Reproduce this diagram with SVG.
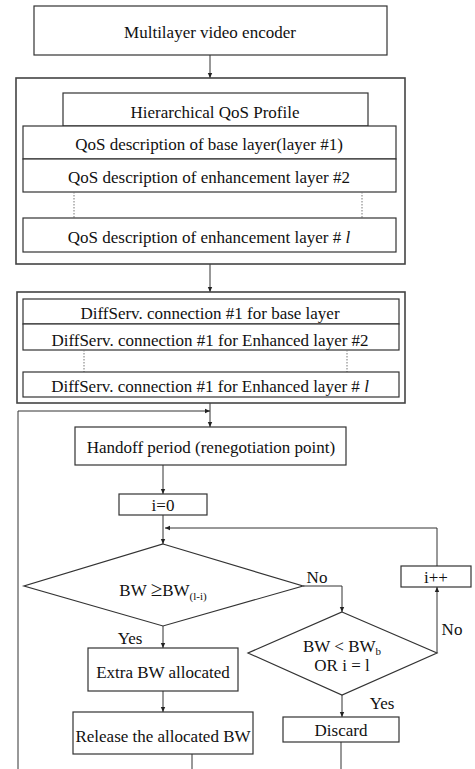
<svg xmlns="http://www.w3.org/2000/svg" width="475" height="769" viewBox="0 0 475 769">
<style>
.b{fill:#fff;stroke:#333;stroke-width:1.2}
.o{fill:none;stroke:#444;stroke-width:1.6}
.l{fill:none;stroke:#333;stroke-width:1}
.d{fill:none;stroke:#777;stroke-width:1;stroke-dasharray:1.5 1.5}
text{font-family:'Liberation Serif','Times New Roman',Tinos,'DejaVu Serif',serif;font-size:17px;fill:#111;text-anchor:middle}
.s{font-size:11px}
</style>
<defs>
<marker id="a" markerWidth="6" markerHeight="6" refX="5" refY="3" orient="auto" markerUnits="userSpaceOnUse">
<path d="M0,0.8 L5,3 L0,5.2 Z" fill="#222"/>
</marker>
</defs>
<rect width="475" height="769" fill="#fff"/>
<g id="connectors">
<line class="l" x1="210" y1="55" x2="210" y2="78" marker-end="url(#a)"/>
<line class="l" x1="210" y1="264" x2="210" y2="292" marker-end="url(#a)"/>
<line class="l" x1="210" y1="403" x2="210" y2="427" marker-end="url(#a)"/>
<polyline class="l" points="18,769 18,411 210,411" marker-end="url(#a)"/>
<line class="l" x1="163" y1="465" x2="163" y2="494" marker-end="url(#a)"/>
<line class="l" x1="163" y1="515" x2="163" y2="544" marker-end="url(#a)"/>
<polyline class="l" points="437,566 437,528 165,528" marker-end="url(#a)"/>
<polyline class="l" points="303,586 342,586 342,612" marker-end="url(#a)"/>
<line class="l" x1="437" y1="653" x2="437" y2="587" marker-end="url(#a)"/>
<line class="l" x1="163" y1="626" x2="163" y2="648" marker-end="url(#a)"/>
<line class="l" x1="163" y1="691" x2="163" y2="712" marker-end="url(#a)"/>
<line class="l" x1="342" y1="695" x2="342" y2="717" marker-end="url(#a)"/>
<line class="l" x1="192" y1="754" x2="192" y2="769"/>
<line class="l" x1="341" y1="742" x2="341" y2="769"/>
<text x="317" y="583">No</text>
<text x="452" y="635">No</text>
<text x="130" y="644">Yes</text>
<text x="382" y="709">Yes</text>
</g>
<g id="encoder">
<rect class="b" x="34" y="6" width="353" height="49"/>
<text x="210" y="38">Multilayer video encoder</text>
</g>
<g id="qos-profile">
<rect class="o" x="16" y="78" width="389" height="186"/>
<rect class="b" x="63" y="93" width="305" height="33"/>
<text x="215" y="118">Hierarchical QoS Profile</text>
<rect class="b" x="23" y="126" width="373" height="33"/>
<text x="209" y="150">QoS description of base layer(layer #1)</text>
<rect class="b" x="23" y="159" width="373" height="33"/>
<text x="209" y="183">QoS description of enhancement layer #2</text>
<line class="d" x1="74" y1="192" x2="74" y2="218"/>
<line class="d" x1="362" y1="192" x2="362" y2="218"/>
<rect class="b" x="23" y="218" width="373" height="34"/>
<text x="209" y="243">QoS description of enhancement layer # <tspan font-style="italic">l</tspan></text>
</g>
<g id="diffserv">
<rect class="o" x="17" y="292" width="388" height="111"/>
<rect class="b" x="23" y="299" width="376" height="25"/>
<text x="210" y="319">DiffServ. connection #1 for base layer</text>
<rect class="b" x="23" y="324" width="376" height="26"/>
<text x="210" y="346">DiffServ. connection #1 for Enhanced layer #2</text>
<line class="d" x1="84" y1="350" x2="84" y2="372"/>
<line class="d" x1="347" y1="350" x2="347" y2="372"/>
<rect class="b" x="23" y="372" width="376" height="25"/>
<text x="210" y="392">DiffServ. connection #1 for Enhanced layer # <tspan font-style="italic">l</tspan></text>
</g>
<g id="handoff">
<rect class="b" x="75" y="427" width="271" height="38"/>
<text x="211" y="453">Handoff period (renegotiation point)</text>
</g>
<g id="init">
<rect class="b" x="119" y="494" width="88" height="21"/>
<text x="163" y="511">i=0</text>
</g>
<g id="decision1">
<polygon class="b" points="163,544 303,586 163,626 24,586"/>
<text x="163" y="596">BW <tspan font-size="21">≥</tspan>BW<tspan class="s" dy="4">(l-i)</tspan></text>
</g>
<g id="decision2">
<polygon class="b" points="342,612 437,653 342,695 248,653"/>
<text x="342" y="652">BW &lt; BW<tspan class="s" dy="3">b</tspan></text>
<text x="342" y="671">OR i = l</text>
</g>
<g id="incr">
<rect class="b" x="401" y="566" width="70" height="21"/>
<text x="436" y="583">i++</text>
</g>
<g id="extra">
<rect class="b" x="88" y="648" width="150" height="43"/>
<text x="163" y="678">Extra BW allocated</text>
</g>
<g id="release">
<rect class="b" x="73" y="712" width="180" height="42"/>
<text x="163" y="742">Release the allocated BW</text>
</g>
<g id="discard">
<rect class="b" x="283" y="717" width="116" height="25"/>
<text x="341" y="736">Discard</text>
</g>
</svg>
